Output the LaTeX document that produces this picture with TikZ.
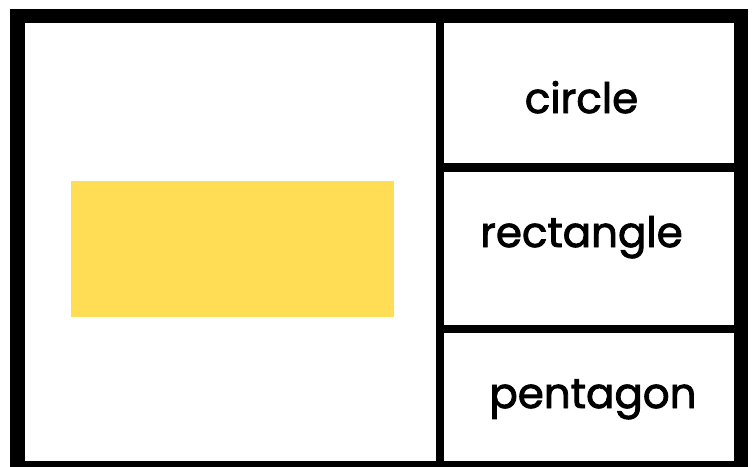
\documentclass[tikz,border=0pt]{standalone}
\usepackage{fontspec}
\setmainfont{Poppins}[FakeBold=2]
\definecolor{shapefill}{HTML}{FFDD55}
\begin{document}
\begin{tikzpicture}[x=1pt,y=-1pt,
  frame/.style={draw=black,line width=14.5pt},
  divider/.style={draw=black,line width=8.5pt},
  word/.style={anchor=base,inner sep=0pt,font=\fontsize{42}{48}\selectfont}]
\useasboundingbox (0,0) rectangle (755,466);
\clip (0,0) rectangle (755,466);
% the shape to be named
\fill[shapefill] (71,181) rectangle (394,317);
% outer frame and the answer cells
\draw[frame] (17.25,16) rectangle (740.75,468.5);
\draw[divider] (440,16) -- (440,468);
\draw[divider] (440,167.5) -- (740,167.5);
\draw[divider] (440,329) -- (740,329);
% answer words
\node[word] (circle) at (581.5,113) {circle};
\node[word] (rectangle) at (581.5,247) {rectangle};
\node[word] (pentagon) at (593,408) {pentagon};
\end{tikzpicture}
\end{document}
